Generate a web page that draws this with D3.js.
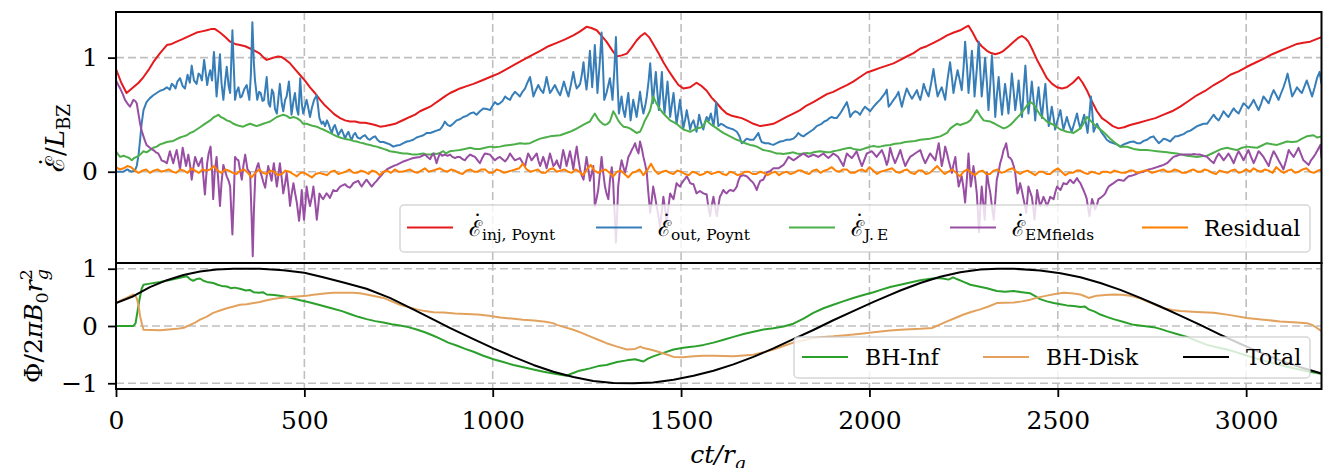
<!DOCTYPE html>
<html>
<head>
<meta charset="utf-8">
<script src="https://cdn.jsdelivr.net/npm/d3@7"></script>
<style>
  html, body { margin: 0; padding: 0; background: #ffffff; }
  svg { display: block; }
  text { font-family: "DejaVu Serif", "Liberation Serif", serif; fill: #000; }
</style>
</head>
<body>
<svg id="chart" width="1323" height="468"></svg>
<script>
// ---------------- data: energy budget (top panel) ----------------
// [ct/r_g, value / L_BZ]
const injPoynt = [[0,0.90],[14,0.78],[28,0.69],[46,0.74],[60,0.78],[73,0.83],[86,0.89],[99,0.96],[117,1.04],[135,1.11],[148,1.12],[161,1.14],[175,1.16],[188,1.18],[201,1.20],[214,1.22],[228,1.23],[241,1.24],[252,1.25],[263,1.25],[276,1.22],[290,1.18],[303,1.14],[316,1.12],[329,1.11],[343,1.10],[356,1.08],[369,1.06],[382,1.035],[392,1.00],[400,0.98],[409,0.99],[418,1.00],[430,1.01],[440,1.005],[451,0.98],[462,0.95],[475,0.90],[488,0.85],[501,0.80],[515,0.74],[528,0.69],[542,0.63],[555,0.58],[568,0.54],[581,0.50],[595,0.47],[608,0.45],[621,0.44],[635,0.44],[648,0.43],[661,0.43],[674,0.42],[688,0.41],[701,0.395],[714,0.40],[727,0.41],[741,0.42],[754,0.44],[767,0.46],[780,0.48],[794,0.50],[807,0.53],[820,0.55],[834,0.57],[847,0.60],[860,0.63],[873,0.66],[887,0.69],[900,0.71],[913,0.73],[931,0.75],[949,0.77],[971,0.80],[993,0.83],[1015,0.86],[1037,0.90],[1059,0.94],[1081,0.98],[1103,1.02],[1126,1.06],[1148,1.10],[1170,1.13],[1192,1.16],[1214,1.195],[1232,1.23],[1249,1.27],[1262,1.26],[1276,1.24],[1289,1.19],[1302,1.14],[1316,1.07],[1329,1.01],[1342,1.02],[1356,1.035],[1369,1.09],[1382,1.15],[1393,1.19],[1404,1.215],[1415,1.18],[1426,1.12],[1440,1.04],[1453,0.96],[1466,0.89],[1480,0.82],[1493,0.76],[1506,0.73],[1524,0.74],[1541,0.78],[1555,0.75],[1568,0.71],[1581,0.65],[1595,0.60],[1608,0.55],[1621,0.51],[1635,0.49],[1648,0.48],[1661,0.47],[1674,0.45],[1692,0.42],[1710,0.40],[1728,0.41],[1745,0.42],[1763,0.45],[1780,0.48],[1798,0.51],[1816,0.54],[1833,0.58],[1851,0.61],[1869,0.645],[1887,0.68],[1904,0.70],[1922,0.73],[1940,0.76],[1957,0.79],[1975,0.83],[1993,0.87],[2011,0.89],[2028,0.91],[2046,0.93],[2064,0.95],[2082,0.98],[2099,1.01],[2117,1.04],[2135,1.08],[2152,1.10],[2170,1.13],[2188,1.16],[2206,1.195],[2224,1.22],[2241,1.24],[2252,1.26],[2263,1.28],[2274,1.22],[2285,1.15],[2298,1.10],[2312,1.06],[2323,1.04],[2334,1.03],[2345,1.04],[2356,1.06],[2370,1.10],[2383,1.14],[2394,1.17],[2405,1.19],[2414,1.17],[2422,1.14],[2434,1.06],[2445,0.98],[2458,0.90],[2471,0.82],[2485,0.77],[2498,0.74],[2511,0.73],[2524,0.74],[2540,0.78],[2555,0.83],[2566,0.78],[2577,0.715],[2590,0.62],[2604,0.53],[2617,0.47],[2630,0.44],[2646,0.40],[2661,0.38],[2676,0.39],[2692,0.41],[2715,0.43],[2737,0.45],[2759,0.47],[2781,0.50],[2803,0.53],[2825,0.57],[2847,0.62],[2869,0.67],[2892,0.71],[2914,0.76],[2936,0.80],[2958,0.85],[2980,0.88],[3002,0.92],[3024,0.955],[3046,0.99],[3069,1.03],[3091,1.06],[3113,1.09],[3135,1.12],[3152,1.13],[3170,1.14],[3185,1.16],[3200,1.18]];

const outPoynt = [[0,0.0],[10,0.0],[20,0.0],[30,0.02],[40,0.0],[50,0.01],[55,0.05],[60,0.15],[64,0.28],[68,0.42],[73,0.54],[81,0.61],[90,0.645],[99,0.67],[108,0.69],[117,0.71],[126,0.72],[135,0.74],[143,0.72],[148,0.77],[152,0.76],[158,0.73],[163,0.79],[170,0.82],[177,0.75],[183,0.73],[190,0.85],[196,0.78],[201,0.93],[207,0.80],[214,0.77],[219,0.86],[223,0.85],[228,0.80],[234,0.98],[242,0.76],[246,0.84],[250,0.89],[255,0.80],[260,1.05],[267,0.66],[272,0.85],[276,1.03],[280,0.78],[285,0.63],[290,0.80],[294,0.92],[299,0.75],[303,0.69],[309,1.24],[316,0.63],[320,0.70],[325,0.74],[330,0.65],[334,0.66],[340,0.72],[347,0.76],[354,0.63],[358,0.85],[362,1.31],[366,0.95],[369,0.80],[375,0.63],[380,0.70],[384,0.69],[389,0.62],[393,0.63],[400,0.83],[405,0.60],[409,0.57],[414,0.72],[418,0.69],[422,0.55],[427,0.51],[431,0.64],[435,0.77],[440,0.60],[444,0.53],[449,0.63],[453,0.66],[459,0.79],[466,0.50],[471,0.62],[475,0.69],[480,0.55],[484,0.50],[489,0.82],[493,0.60],[497,0.51],[502,0.58],[506,0.63],[511,0.55],[515,0.48],[520,0.56],[526,0.63],[533,0.67],[540,0.47],[546,0.42],[550,0.44],[555,0.40],[560,0.45],[564,0.42],[568,0.38],[573,0.34],[577,0.39],[581,0.41],[586,0.36],[590,0.32],[595,0.35],[599,0.37],[604,0.33],[608,0.29],[613,0.33],[617,0.35],[621,0.31],[626,0.28],[630,0.32],[635,0.34],[641,0.30],[648,0.29],[655,0.31],[661,0.32],[668,0.29],[674,0.28],[681,0.30],[688,0.31],[694,0.28],[701,0.26],[710,0.26],[719,0.25],[727,0.24],[736,0.22],[745,0.23],[754,0.235],[763,0.25],[772,0.265],[780,0.27],[789,0.28],[798,0.30],[807,0.31],[816,0.32],[825,0.34],[834,0.34],[843,0.35],[851,0.36],[860,0.37],[867,0.40],[873,0.44],[880,0.41],[887,0.40],[895,0.42],[904,0.45],[913,0.46],[922,0.48],[931,0.49],[940,0.51],[949,0.52],[957,0.50],[966,0.53],[975,0.555],[984,0.55],[993,0.54],[1000,0.58],[1006,0.61],[1013,0.59],[1019,0.60],[1026,0.62],[1033,0.66],[1040,0.64],[1046,0.63],[1052,0.67],[1059,0.70],[1066,0.68],[1072,0.66],[1079,0.70],[1086,0.73],[1092,0.78],[1099,0.83],[1104,0.74],[1108,0.66],[1114,0.71],[1121,0.76],[1127,0.72],[1134,0.69],[1139,0.76],[1143,0.83],[1148,0.75],[1152,0.69],[1158,0.72],[1165,0.76],[1172,0.71],[1179,0.67],[1184,0.73],[1189,0.79],[1195,0.72],[1201,0.66],[1208,0.77],[1214,0.875],[1219,0.78],[1223,0.73],[1228,0.75],[1232,0.77],[1237,0.86],[1241,0.96],[1245,0.82],[1249,0.72],[1254,0.88],[1258,1.06],[1261,0.90],[1264,0.74],[1268,0.92],[1271,1.11],[1275,0.88],[1278,0.69],[1284,0.95],[1289,1.22],[1293,0.90],[1296,0.63],[1302,0.69],[1307,0.76],[1311,0.82],[1315,0.72],[1318,0.63],[1323,0.90],[1327,1.18],[1331,0.80],[1335,0.51],[1342,0.66],[1346,0.55],[1351,0.48],[1355,0.58],[1360,0.69],[1366,0.45],[1373,0.63],[1378,0.55],[1382,0.48],[1387,0.60],[1391,0.70],[1396,0.58],[1400,0.51],[1405,0.58],[1409,0.66],[1414,0.80],[1418,0.95],[1422,0.75],[1425,0.60],[1429,0.74],[1433,0.875],[1437,0.70],[1441,0.54],[1445,0.70],[1449,0.875],[1452,0.68],[1456,0.51],[1460,0.65],[1464,0.79],[1468,0.62],[1471,0.48],[1476,0.60],[1480,0.69],[1484,0.55],[1488,0.42],[1493,0.53],[1497,0.63],[1502,0.50],[1506,0.38],[1511,0.46],[1515,0.54],[1520,0.45],[1524,0.37],[1528,0.42],[1533,0.45],[1537,0.40],[1541,0.35],[1545,0.43],[1548,0.50],[1553,0.43],[1559,0.37],[1564,0.44],[1568,0.48],[1574,0.45],[1579,0.51],[1583,0.45],[1586,0.40],[1590,0.50],[1593,0.61],[1596,0.50],[1599,0.40],[1606,0.42],[1612,0.41],[1621,0.39],[1630,0.38],[1639,0.37],[1648,0.35],[1655,0.31],[1661,0.25],[1668,0.27],[1674,0.29],[1683,0.28],[1692,0.28],[1699,0.31],[1705,0.34],[1710,0.29],[1714,0.26],[1723,0.25],[1732,0.25],[1740,0.24],[1745,0.235],[1754,0.25],[1763,0.265],[1772,0.27],[1780,0.28],[1789,0.28],[1798,0.29],[1805,0.31],[1811,0.34],[1818,0.32],[1825,0.31],[1833,0.33],[1842,0.35],[1851,0.37],[1860,0.40],[1867,0.41],[1873,0.42],[1880,0.44],[1887,0.45],[1894,0.47],[1900,0.48],[1907,0.47],[1913,0.47],[1920,0.50],[1926,0.53],[1933,0.57],[1940,0.61],[1945,0.55],[1949,0.48],[1955,0.51],[1962,0.53],[1969,0.52],[1975,0.50],[1982,0.54],[1988,0.57],[1995,0.55],[2002,0.53],[2011,0.57],[2019,0.60],[2028,0.63],[2037,0.67],[2042,0.69],[2046,0.72],[2051,0.57],[2058,0.60],[2064,0.63],[2071,0.66],[2077,0.70],[2081,0.64],[2086,0.57],[2092,0.65],[2099,0.73],[2106,0.68],[2113,0.64],[2120,0.68],[2126,0.715],[2130,0.67],[2135,0.63],[2140,0.70],[2144,0.77],[2150,0.71],[2157,0.66],[2164,0.78],[2170,0.90],[2175,0.78],[2181,0.66],[2186,0.70],[2192,0.74],[2197,0.68],[2201,0.63],[2207,0.80],[2214,0.96],[2219,0.82],[2223,0.69],[2228,0.79],[2234,0.89],[2240,0.80],[2245,0.715],[2250,0.92],[2254,1.14],[2259,0.92],[2263,0.69],[2268,0.88],[2272,1.06],[2276,0.86],[2279,0.66],[2285,0.90],[2290,1.14],[2294,0.90],[2298,0.66],[2303,0.83],[2307,1.00],[2312,0.77],[2316,0.54],[2321,0.78],[2325,1.02],[2330,0.75],[2334,0.48],[2338,0.66],[2343,0.83],[2347,0.66],[2352,0.50],[2356,0.64],[2360,0.77],[2365,0.64],[2369,0.51],[2374,0.69],[2378,0.86],[2383,0.70],[2387,0.54],[2392,0.67],[2396,0.80],[2400,0.64],[2405,0.48],[2409,0.70],[2414,0.93],[2418,0.72],[2422,0.51],[2427,0.65],[2431,0.79],[2436,0.62],[2440,0.45],[2444,0.60],[2449,0.74],[2453,0.60],[2458,0.47],[2462,0.62],[2467,0.77],[2471,0.58],[2476,0.40],[2480,0.48],[2484,0.57],[2489,0.47],[2493,0.37],[2500,0.46],[2507,0.54],[2511,0.45],[2515,0.37],[2520,0.43],[2524,0.48],[2530,0.41],[2537,0.35],[2544,0.43],[2551,0.51],[2555,0.44],[2560,0.38],[2565,0.44],[2570,0.50],[2575,0.42],[2579,0.34],[2584,0.50],[2588,0.66],[2592,0.50],[2595,0.35],[2600,0.39],[2604,0.42],[2610,0.38],[2617,0.34],[2624,0.31],[2630,0.28],[2639,0.26],[2648,0.25],[2657,0.24],[2666,0.22],[2675,0.24],[2683,0.25],[2692,0.26],[2701,0.265],[2710,0.25],[2719,0.25],[2728,0.27],[2737,0.28],[2745,0.30],[2754,0.31],[2761,0.28],[2768,0.25],[2775,0.27],[2781,0.29],[2790,0.28],[2799,0.265],[2805,0.29],[2812,0.31],[2818,0.31],[2825,0.32],[2834,0.33],[2843,0.35],[2852,0.36],[2861,0.38],[2870,0.40],[2878,0.41],[2887,0.42],[2896,0.42],[2905,0.46],[2914,0.50],[2920,0.47],[2927,0.45],[2934,0.49],[2940,0.53],[2947,0.50],[2953,0.48],[2960,0.52],[2967,0.555],[2973,0.53],[2980,0.51],[2987,0.56],[2993,0.60],[3000,0.58],[3006,0.555],[3013,0.59],[3020,0.63],[3027,0.58],[3033,0.54],[3040,0.60],[3046,0.66],[3053,0.63],[3060,0.60],[3066,0.66],[3073,0.715],[3080,0.67],[3086,0.63],[3093,0.69],[3099,0.74],[3105,0.80],[3110,0.86],[3116,0.76],[3122,0.66],[3129,0.70],[3135,0.74],[3142,0.71],[3148,0.69],[3155,0.75],[3161,0.80],[3168,0.73],[3175,0.66],[3182,0.74],[3188,0.82],[3195,0.875],[3200,0.77]];

const jDotE = [[0,0.18],[6,0.15],[11,0.13],[20,0.14],[28,0.13],[35,0.12],[42,0.10],[48,0.12],[55,0.13],[64,0.15],[73,0.18],[81,0.17],[90,0.19],[99,0.21],[108,0.22],[117,0.24],[126,0.25],[135,0.26],[143,0.265],[152,0.27],[161,0.285],[170,0.30],[179,0.31],[188,0.32],[197,0.34],[205,0.35],[214,0.37],[223,0.39],[232,0.41],[241,0.43],[250,0.45],[260,0.48],[267,0.49],[272,0.50],[278,0.48],[285,0.47],[294,0.45],[303,0.44],[312,0.42],[320,0.41],[329,0.40],[338,0.395],[347,0.41],[356,0.42],[365,0.41],[373,0.40],[382,0.41],[391,0.42],[400,0.43],[409,0.44],[418,0.46],[427,0.48],[435,0.49],[444,0.50],[453,0.49],[462,0.47],[471,0.48],[480,0.47],[489,0.45],[497,0.42],[506,0.42],[515,0.41],[524,0.40],[533,0.395],[542,0.38],[550,0.37],[559,0.355],[568,0.34],[577,0.325],[586,0.31],[595,0.30],[604,0.29],[612,0.285],[621,0.28],[630,0.27],[639,0.265],[648,0.255],[657,0.25],[665,0.24],[674,0.235],[683,0.225],[692,0.22],[701,0.21],[710,0.20],[719,0.19],[727,0.18],[736,0.175],[745,0.17],[754,0.165],[763,0.16],[772,0.16],[780,0.155],[789,0.15],[798,0.15],[807,0.155],[816,0.16],[825,0.15],[834,0.15],[843,0.16],[851,0.155],[860,0.165],[869,0.18],[876,0.16],[887,0.18],[900,0.185],[913,0.19],[926,0.20],[940,0.21],[953,0.20],[966,0.20],[980,0.21],[993,0.22],[1006,0.215],[1019,0.22],[1033,0.23],[1046,0.235],[1059,0.24],[1072,0.25],[1086,0.245],[1099,0.25],[1112,0.27],[1126,0.29],[1139,0.30],[1152,0.31],[1165,0.315],[1179,0.32],[1192,0.335],[1205,0.35],[1218,0.37],[1232,0.395],[1245,0.42],[1258,0.44],[1265,0.48],[1271,0.51],[1278,0.47],[1285,0.44],[1292,0.42],[1298,0.41],[1305,0.42],[1311,0.44],[1316,0.49],[1320,0.53],[1327,0.49],[1333,0.45],[1340,0.42],[1347,0.395],[1356,0.39],[1364,0.38],[1373,0.36],[1382,0.34],[1391,0.35],[1398,0.40],[1404,0.45],[1411,0.49],[1418,0.54],[1422,0.60],[1426,0.66],[1433,0.61],[1440,0.57],[1446,0.54],[1453,0.51],[1462,0.48],[1471,0.45],[1480,0.435],[1488,0.42],[1497,0.395],[1506,0.37],[1515,0.36],[1524,0.35],[1533,0.365],[1541,0.38],[1550,0.385],[1559,0.395],[1563,0.43],[1568,0.45],[1574,0.43],[1581,0.41],[1588,0.395],[1595,0.38],[1603,0.36],[1612,0.34],[1621,0.325],[1630,0.31],[1639,0.295],[1648,0.28],[1656,0.27],[1665,0.255],[1674,0.245],[1683,0.235],[1692,0.23],[1701,0.22],[1710,0.205],[1718,0.19],[1727,0.185],[1736,0.18],[1745,0.17],[1754,0.16],[1763,0.16],[1771,0.155],[1780,0.16],[1789,0.165],[1798,0.17],[1807,0.16],[1816,0.155],[1825,0.16],[1834,0.165],[1842,0.16],[1851,0.17],[1860,0.175],[1869,0.18],[1878,0.175],[1887,0.17],[1895,0.17],[1904,0.18],[1913,0.185],[1922,0.19],[1931,0.20],[1940,0.205],[1949,0.21],[1957,0.20],[1966,0.195],[1975,0.19],[1984,0.20],[1993,0.21],[2002,0.22],[2011,0.225],[2019,0.22],[2028,0.22],[2042,0.23],[2055,0.235],[2068,0.245],[2082,0.25],[2095,0.26],[2108,0.265],[2121,0.27],[2135,0.28],[2148,0.285],[2161,0.29],[2175,0.30],[2188,0.31],[2197,0.325],[2206,0.34],[2215,0.38],[2223,0.40],[2232,0.42],[2241,0.41],[2250,0.42],[2259,0.43],[2268,0.45],[2276,0.49],[2285,0.54],[2294,0.49],[2303,0.45],[2312,0.445],[2321,0.44],[2330,0.425],[2338,0.41],[2347,0.395],[2356,0.38],[2365,0.39],[2374,0.41],[2383,0.44],[2391,0.47],[2400,0.50],[2409,0.54],[2418,0.58],[2427,0.61],[2433,0.60],[2440,0.57],[2447,0.53],[2453,0.50],[2462,0.47],[2471,0.44],[2480,0.425],[2489,0.41],[2498,0.39],[2507,0.37],[2515,0.36],[2524,0.35],[2533,0.345],[2542,0.34],[2551,0.36],[2560,0.38],[2568,0.42],[2577,0.48],[2586,0.45],[2595,0.42],[2604,0.395],[2613,0.37],[2622,0.345],[2630,0.32],[2639,0.29],[2648,0.265],[2657,0.24],[2666,0.22],[2675,0.22],[2683,0.22],[2692,0.21],[2701,0.20],[2710,0.195],[2719,0.19],[2728,0.19],[2737,0.19],[2750,0.185],[2763,0.18],[2776,0.175],[2790,0.17],[2803,0.165],[2816,0.16],[2829,0.15],[2843,0.14],[2856,0.135],[2869,0.13],[2882,0.135],[2896,0.14],[2909,0.16],[2922,0.18],[2935,0.20],[2949,0.21],[2962,0.20],[2975,0.19],[2989,0.21],[3002,0.22],[3015,0.215],[3029,0.21],[3042,0.23],[3055,0.25],[3069,0.24],[3082,0.235],[3095,0.25],[3108,0.265],[3122,0.26],[3135,0.265],[3148,0.29],[3161,0.31],[3170,0.315],[3179,0.32],[3188,0.30],[3200,0.31]];

const emFields = [[0,0.80],[6,0.76],[11,0.73],[18,0.68],[24,0.63],[30,0.60],[37,0.57],[42,0.60],[46,0.63],[51,0.62],[55,0.60],[60,0.50],[64,0.42],[68,0.36],[73,0.31],[77,0.27],[81,0.235],[90,0.21],[99,0.19],[106,0.17],[112,0.16],[117,0.13],[121,0.10],[128,0.09],[135,0.075],[143,0.18],[148,0.12],[152,0.075],[156,0.13],[161,0.19],[166,0.10],[170,0.02],[177,0.21],[182,0.12],[186,0.05],[192,0.15],[197,0.05],[201,-0.07],[206,0.05],[210,0.13],[215,0.08],[219,0.05],[224,0.09],[228,0.12],[232,-0.05],[236,-0.20],[242,0.075],[246,0.16],[251,0.22],[255,0.00],[258,-0.24],[262,0.00],[267,0.13],[272,-0.10],[276,-0.30],[280,-0.10],[285,0.06],[290,0.00],[294,-0.04],[299,-0.08],[303,-0.13],[306,-0.35],[309,-0.55],[313,-0.20],[316,0.13],[320,0.11],[325,0.10],[330,0.00],[334,-0.07],[338,0.05],[343,0.15],[349,0.02],[356,-0.01],[360,-0.40],[363,-0.74],[366,-0.35],[370,-0.01],[374,0.04],[378,0.075],[382,0.01],[387,-0.04],[391,-0.09],[396,-0.14],[400,-0.04],[404,0.05],[409,-0.02],[413,-0.08],[416,0.00],[419,0.075],[423,-0.03],[427,-0.13],[431,-0.03],[435,0.075],[440,-0.06],[444,-0.19],[449,-0.10],[453,-0.01],[458,-0.15],[462,-0.30],[466,-0.20],[471,-0.10],[475,-0.18],[480,-0.27],[483,-0.35],[486,-0.43],[490,-0.30],[493,-0.16],[496,-0.30],[499,-0.42],[503,-0.28],[506,-0.13],[510,-0.22],[515,-0.30],[520,-0.22],[524,-0.13],[529,-0.28],[533,-0.42],[537,-0.30],[540,-0.19],[545,-0.22],[550,-0.24],[555,-0.21],[559,-0.19],[564,-0.21],[568,-0.23],[573,-0.19],[577,-0.16],[581,-0.17],[586,-0.17],[590,-0.15],[595,-0.13],[601,-0.12],[608,-0.11],[614,-0.13],[621,-0.14],[626,-0.12],[630,-0.10],[636,-0.09],[643,-0.08],[648,-0.11],[652,-0.13],[658,-0.10],[665,-0.07],[672,-0.10],[679,-0.13],[686,-0.10],[692,-0.08],[699,-0.05],[705,-0.03],[712,0.00],[719,0.02],[727,0.035],[736,0.05],[745,0.06],[754,0.075],[763,0.09],[772,0.10],[780,0.11],[789,0.12],[798,0.125],[807,0.13],[813,0.14],[820,0.15],[827,0.13],[834,0.11],[838,0.14],[843,0.16],[847,0.12],[851,0.075],[855,0.12],[860,0.16],[866,0.14],[873,0.15],[880,0.14],[887,0.15],[893,0.13],[900,0.12],[906,0.13],[913,0.13],[920,0.11],[926,0.10],[933,0.13],[940,0.15],[946,0.14],[953,0.13],[960,0.10],[966,0.075],[972,0.12],[979,0.16],[986,0.155],[993,0.15],[1000,0.12],[1006,0.10],[1013,0.12],[1019,0.13],[1026,0.11],[1033,0.09],[1040,0.12],[1046,0.16],[1052,0.13],[1059,0.10],[1066,0.11],[1072,0.12],[1079,0.08],[1086,0.05],[1090,0.11],[1094,0.16],[1099,0.13],[1103,0.10],[1110,0.13],[1117,0.16],[1121,0.10],[1126,0.05],[1130,0.09],[1134,0.13],[1139,0.08],[1143,0.03],[1148,0.10],[1152,0.16],[1157,0.10],[1161,0.05],[1166,0.07],[1170,0.10],[1174,0.06],[1179,0.03],[1183,0.11],[1187,0.19],[1192,0.12],[1196,0.05],[1201,0.12],[1205,0.18],[1210,0.10],[1214,0.02],[1218,0.12],[1223,0.22],[1227,0.12],[1232,0.02],[1236,-0.03],[1241,-0.07],[1245,0.03],[1249,0.13],[1254,0.02],[1258,-0.08],[1263,-0.01],[1267,0.05],[1269,-0.12],[1271,-0.30],[1276,-0.23],[1280,-0.16],[1285,0.00],[1289,0.13],[1293,0.00],[1298,-0.13],[1302,-0.19],[1307,-0.24],[1311,-0.08],[1316,0.04],[1320,-0.10],[1322,-0.27],[1325,-0.45],[1327,-0.62],[1330,-0.40],[1333,-0.13],[1338,0.02],[1342,0.10],[1347,0.04],[1351,-0.01],[1356,0.06],[1360,0.13],[1365,0.16],[1369,0.19],[1374,0.22],[1378,0.25],[1382,0.20],[1387,0.16],[1391,0.265],[1396,0.20],[1400,0.13],[1405,0.06],[1409,-0.01],[1413,-0.18],[1418,-0.36],[1422,-0.25],[1426,-0.13],[1431,-0.22],[1435,-0.30],[1440,-0.39],[1444,-0.48],[1449,-0.35],[1453,-0.22],[1458,-0.33],[1462,-0.45],[1466,-0.32],[1471,-0.19],[1476,-0.22],[1480,-0.24],[1484,-0.17],[1488,-0.10],[1493,-0.12],[1497,-0.13],[1502,-0.10],[1506,-0.08],[1511,-0.06],[1515,-0.04],[1520,-0.07],[1524,-0.10],[1528,-0.105],[1533,-0.11],[1537,-0.15],[1541,-0.19],[1545,-0.18],[1550,-0.17],[1555,-0.18],[1559,-0.19],[1564,-0.195],[1568,-0.20],[1572,-0.30],[1577,-0.39],[1581,-0.30],[1586,-0.22],[1590,-0.30],[1595,-0.39],[1599,-0.30],[1603,-0.22],[1608,-0.19],[1612,-0.16],[1617,-0.18],[1621,-0.19],[1626,-0.17],[1630,-0.16],[1635,-0.165],[1639,-0.17],[1644,-0.15],[1648,-0.13],[1652,-0.08],[1657,-0.04],[1661,-0.035],[1665,-0.03],[1670,-0.035],[1674,-0.04],[1679,-0.055],[1683,-0.07],[1688,-0.085],[1692,-0.10],[1697,-0.13],[1701,-0.16],[1705,-0.12],[1710,-0.08],[1714,-0.075],[1718,-0.07],[1723,-0.04],[1727,-0.01],[1732,0.00],[1736,0.005],[1745,0.03],[1752,0.03],[1758,0.03],[1765,0.045],[1772,0.06],[1778,0.09],[1785,0.13],[1792,0.115],[1798,0.10],[1805,0.115],[1811,0.13],[1818,0.145],[1825,0.16],[1831,0.145],[1838,0.13],[1845,0.14],[1851,0.15],[1858,0.14],[1864,0.13],[1871,0.145],[1878,0.16],[1884,0.14],[1891,0.12],[1898,0.14],[1904,0.16],[1911,0.145],[1917,0.13],[1924,0.09],[1931,0.05],[1935,0.10],[1940,0.16],[1946,0.14],[1953,0.12],[1960,0.15],[1966,0.18],[1973,0.11],[1980,0.05],[1986,0.10],[1993,0.16],[2000,0.17],[2006,0.18],[2013,0.155],[2019,0.13],[2026,0.16],[2033,0.19],[2040,0.13],[2046,0.06],[2050,0.10],[2055,0.21],[2061,0.14],[2068,0.075],[2075,0.13],[2082,0.19],[2088,0.12],[2095,0.05],[2101,0.09],[2108,0.13],[2115,0.145],[2121,0.16],[2128,0.175],[2135,0.19],[2141,0.13],[2148,0.075],[2155,0.12],[2161,0.16],[2168,0.13],[2175,0.10],[2179,0.17],[2184,0.25],[2188,0.15],[2192,0.05],[2197,0.13],[2201,0.22],[2206,0.16],[2210,0.10],[2215,0.04],[2219,-0.01],[2223,0.06],[2228,0.13],[2232,0.00],[2237,-0.13],[2241,-0.08],[2245,-0.04],[2250,-0.15],[2254,-0.27],[2259,-0.05],[2263,0.16],[2266,0.01],[2269,-0.13],[2273,-0.04],[2276,0.05],[2281,-0.07],[2285,-0.19],[2288,-0.36],[2291,-0.53],[2294,-0.33],[2298,-0.13],[2302,-0.27],[2306,-0.42],[2309,-0.20],[2312,-0.01],[2316,-0.10],[2321,-0.19],[2325,-0.30],[2330,-0.42],[2334,-0.25],[2338,-0.07],[2343,0.00],[2347,0.075],[2352,0.13],[2356,0.19],[2360,0.22],[2363,0.25],[2366,0.19],[2369,0.13],[2374,0.12],[2378,0.10],[2383,0.05],[2387,-0.01],[2390,-0.10],[2393,-0.19],[2397,-0.15],[2400,-0.10],[2405,-0.17],[2409,-0.24],[2413,-0.30],[2416,-0.36],[2419,-0.25],[2422,-0.13],[2427,-0.18],[2431,-0.22],[2435,-0.32],[2438,-0.42],[2442,-0.29],[2445,-0.16],[2449,-0.23],[2453,-0.30],[2458,-0.26],[2462,-0.22],[2467,-0.26],[2471,-0.30],[2476,-0.26],[2480,-0.22],[2484,-0.23],[2489,-0.24],[2493,-0.185],[2498,-0.13],[2502,-0.145],[2507,-0.16],[2511,-0.13],[2515,-0.10],[2520,-0.105],[2524,-0.11],[2528,-0.09],[2533,-0.07],[2537,-0.085],[2542,-0.10],[2546,-0.08],[2551,-0.055],[2555,-0.08],[2560,-0.10],[2564,-0.13],[2568,-0.16],[2573,-0.20],[2577,-0.24],[2580,-0.31],[2584,-0.39],[2587,-0.32],[2591,-0.24],[2595,-0.28],[2599,-0.33],[2604,-0.29],[2608,-0.24],[2613,-0.23],[2617,-0.22],[2622,-0.205],[2626,-0.19],[2630,-0.16],[2635,-0.13],[2641,-0.115],[2648,-0.10],[2654,-0.085],[2661,-0.07],[2668,-0.075],[2675,-0.08],[2681,-0.06],[2688,-0.04],[2695,-0.035],[2701,-0.03],[2708,-0.02],[2715,-0.01],[2721,-0.005],[2728,0.00],[2734,0.01],[2741,0.02],[2748,0.025],[2754,0.03],[2763,0.04],[2772,0.05],[2781,0.06],[2790,0.075],[2798,0.10],[2807,0.13],[2816,0.14],[2825,0.15],[2834,0.15],[2843,0.15],[2852,0.15],[2861,0.155],[2870,0.15],[2878,0.15],[2887,0.14],[2896,0.13],[2905,0.10],[2914,0.075],[2920,0.12],[2927,0.16],[2934,0.13],[2940,0.10],[2947,0.13],[2953,0.16],[2960,0.12],[2967,0.075],[2973,0.13],[2980,0.18],[2987,0.14],[2993,0.10],[3000,0.15],[3006,0.19],[3013,0.13],[3020,0.075],[3027,0.13],[3033,0.18],[3040,0.155],[3046,0.13],[3053,0.09],[3060,0.05],[3066,0.12],[3073,0.18],[3080,0.14],[3086,0.10],[3093,0.06],[3099,0.02],[3106,0.10],[3113,0.19],[3119,0.16],[3126,0.13],[3133,0.17],[3139,0.21],[3146,0.15],[3152,0.10],[3159,0.08],[3166,0.06],[3172,0.10],[3179,0.13],[3184,0.155],[3188,0.18],[3193,0.21],[3197,0.235],[3200,0.12]];

// residual sampled every 10 time units, starting at ct/r_g = 0
const residualStep = 10;
const residual = [0.04,0.02,0.03,0.05,0.04,0.01,-0.01,0.01,0.02,-0.01,0.01,0.02,0.00,0.01,0.02,0.00,-0.01,0.02,0.01,-0.01,0.03,0.01,-0.01,0.02,0.01,0.02,0.05,0.01,-0.01,0.02,0.01,-0.01,-0.02,0.01,0.02,-0.01,-0.05,-0.01,0.02,-0.01,-0.02,0.01,0.00,-0.03,-0.02,0.01,0.00,-0.02,-0.04,-0.01,-0.01,-0.03,-0.05,-0.02,-0.01,-0.02,-0.03,0.00,0.01,-0.02,-0.01,0.00,0.02,-0.01,-0.01,0.01,0.00,-0.02,0.01,0.00,-0.03,0.00,0.01,-0.01,0.02,0.00,0.00,0.01,0.02,0.00,-0.01,0.01,0.03,0.00,0.01,0.02,0.03,0.01,0.00,0.02,0.01,-0.01,-0.02,0.01,0.02,0.00,0.00,0.02,0.02,-0.01,-0.01,0.02,0.01,-0.01,0.00,0.01,0.02,0.03,0.07,0.02,0.00,0.01,0.02,-0.01,-0.01,0.02,0.03,0.00,0.01,0.02,0.00,-0.01,0.02,0.00,-0.03,0.02,0.06,0.01,-0.01,0.01,0.02,-0.01,-0.04,0.00,0.01,-0.02,-0.05,-0.01,0.00,0.02,-0.03,0.01,0.07,0.01,-0.02,0.00,0.01,-0.01,-0.02,0.01,0.00,-0.02,-0.03,0.00,-0.01,-0.03,-0.02,0.00,-0.02,-0.01,0.00,-0.02,-0.03,0.00,-0.01,-0.03,-0.02,0.00,0.00,-0.02,-0.02,0.00,-0.01,-0.03,-0.01,0.00,-0.03,-0.01,0.00,-0.02,-0.01,0.01,0.01,-0.01,-0.02,0.01,0.02,-0.01,0.01,0.02,0.04,0.01,0.00,0.02,0.02,-0.01,-0.01,0.01,0.02,0.00,0.04,0.01,-0.02,0.00,0.01,0.02,0.03,0.00,-0.01,0.01,0.02,-0.01,-0.02,0.01,0.01,-0.02,-0.01,0.02,0.05,0.01,-0.02,0.00,0.02,-0.01,-0.04,0.00,0.02,-0.01,-0.03,0.00,0.01,-0.02,-0.02,0.01,0.02,-0.01,0.00,0.02,0.03,0.00,-0.02,0.00,0.01,-0.01,-0.03,0.00,0.00,-0.02,-0.02,0.01,0.03,0.00,-0.03,-0.01,-0.01,0.01,0.01,-0.01,-0.02,0.00,-0.01,-0.02,0.00,0.00,-0.01,0.01,0.00,-0.01,-0.01,0.01,0.01,-0.01,0.00,0.01,0.01,-0.01,0.00,0.01,0.02,0.00,0.00,0.02,0.01,-0.01,-0.01,0.01,0.02,0.00,0.00,0.02,0.01,-0.01,-0.02,0.01,0.00,-0.01,0.01,0.02,-0.01,0.00,0.02,0.00,0.03,0.01,0.00,0.02,0.01,-0.01,0.04,0.01,-0.01,0.01,0.02,-0.01,0.00,0.02,0.03,0.00,-0.01,0.01,0.02];

// ---------------- data: magnetic flux (bottom panel) ----------------
const bhInf = [[0,0.0],[30,0.0],[46,0.0],[52,0.05],[55,0.17],[62,0.45],[68,0.65],[73,0.72],[90,0.74],[117,0.77],[140,0.80],[161,0.83],[175,0.85],[188,0.87],[196,0.82],[205,0.79],[214,0.82],[223,0.83],[232,0.79],[241,0.77],[258,0.75],[270,0.72],[280,0.70],[294,0.69],[305,0.66],[315,0.67],[329,0.65],[345,0.62],[355,0.63],[365,0.59],[380,0.58],[390,0.59],[400,0.55],[420,0.54],[444,0.52],[465,0.49],[489,0.45],[510,0.42],[533,0.38],[555,0.34],[577,0.30],[600,0.26],[621,0.21],[643,0.16],[665,0.12],[688,0.085],[710,0.06],[732,0.03],[754,0.01],[776,-0.02],[798,-0.06],[820,-0.11],[843,-0.17],[860,-0.22],[882,-0.29],[904,-0.34],[927,-0.40],[949,-0.45],[975,-0.52],[1002,-0.58],[1028,-0.63],[1055,-0.68],[1082,-0.72],[1108,-0.76],[1135,-0.80],[1161,-0.83],[1180,-0.85],[1196,-0.87],[1205,-0.84],[1214,-0.82],[1230,-0.78],[1245,-0.76],[1258,-0.74],[1280,-0.70],[1302,-0.68],[1330,-0.63],[1356,-0.60],[1378,-0.58],[1400,-0.62],[1412,-0.57],[1426,-0.53],[1453,-0.47],[1480,-0.41],[1506,-0.38],[1533,-0.36],[1560,-0.33],[1586,-0.29],[1613,-0.24],[1639,-0.19],[1666,-0.14],[1692,-0.10],[1719,-0.06],[1745,-0.04],[1772,-0.01],[1798,0.04],[1825,0.13],[1851,0.23],[1878,0.31],[1904,0.37],[1930,0.43],[1957,0.49],[1984,0.54],[2011,0.59],[2030,0.63],[2055,0.68],[2082,0.72],[2108,0.76],[2135,0.80],[2157,0.82],[2179,0.84],[2195,0.83],[2210,0.81],[2222,0.85],[2232,0.82],[2250,0.77],[2268,0.72],[2290,0.69],[2312,0.66],[2338,0.61],[2360,0.60],[2383,0.61],[2405,0.59],[2427,0.57],[2440,0.52],[2453,0.47],[2471,0.43],[2489,0.40],[2507,0.38],[2524,0.36],[2542,0.35],[2560,0.33],[2572,0.34],[2582,0.29],[2598,0.25],[2613,0.20],[2630,0.16],[2648,0.12],[2675,0.07],[2701,0.02],[2728,0.00],[2754,-0.02],[2772,-0.05],[2790,-0.09],[2816,-0.14],[2843,-0.19],[2869,-0.26],[2896,-0.33],[2922,-0.37],[2949,-0.41],[2975,-0.46],[3002,-0.52],[3028,-0.57],[3055,-0.62],[3082,-0.67],[3108,-0.71],[3135,-0.75],[3161,-0.79],[3180,-0.81],[3200,-0.84]];

const bhDisk = [[0,0.40],[14,0.45],[28,0.49],[40,0.53],[46,0.55],[52,0.52],[55,0.49],[60,0.35],[64,0.17],[69,0.03],[73,-0.065],[95,-0.07],[117,-0.075],[140,-0.06],[161,-0.05],[180,-0.03],[197,0.02],[210,0.06],[223,0.11],[240,0.16],[258,0.23],[276,0.27],[294,0.31],[312,0.34],[329,0.37],[347,0.38],[365,0.40],[382,0.42],[400,0.45],[418,0.47],[435,0.49],[453,0.50],[471,0.51],[489,0.52],[506,0.53],[524,0.545],[542,0.56],[560,0.57],[577,0.58],[600,0.58],[630,0.58],[648,0.57],[665,0.55],[688,0.52],[710,0.49],[732,0.43],[754,0.37],[776,0.33],[798,0.29],[820,0.26],[843,0.24],[870,0.235],[900,0.22],[930,0.21],[960,0.20],[990,0.18],[1020,0.15],[1050,0.13],[1080,0.11],[1110,0.095],[1140,0.075],[1160,0.05],[1170,0.02],[1190,-0.02],[1214,-0.065],[1236,-0.12],[1258,-0.18],[1280,-0.24],[1302,-0.30],[1330,-0.36],[1356,-0.41],[1378,-0.40],[1392,-0.36],[1400,-0.385],[1418,-0.41],[1435,-0.44],[1458,-0.49],[1480,-0.54],[1506,-0.545],[1533,-0.53],[1560,-0.52],[1586,-0.52],[1613,-0.525],[1639,-0.53],[1666,-0.515],[1692,-0.50],[1719,-0.46],[1745,-0.41],[1772,-0.35],[1798,-0.29],[1825,-0.25],[1851,-0.21],[1878,-0.19],[1904,-0.18],[1930,-0.165],[1957,-0.15],[1984,-0.13],[2011,-0.11],[2030,-0.095],[2055,-0.08],[2082,-0.065],[2108,-0.055],[2135,-0.05],[2166,-0.035],[2185,0.02],[2206,0.08],[2228,0.14],[2250,0.20],[2272,0.25],[2294,0.29],[2316,0.34],[2338,0.40],[2360,0.405],[2383,0.41],[2405,0.43],[2427,0.46],[2449,0.50],[2471,0.53],[2493,0.56],[2515,0.58],[2537,0.57],[2560,0.55],[2572,0.52],[2582,0.49],[2593,0.51],[2604,0.53],[2626,0.54],[2648,0.55],[2670,0.545],[2692,0.53],[2715,0.49],[2737,0.43],[2759,0.37],[2781,0.31],[2803,0.28],[2825,0.26],[2869,0.245],[2914,0.23],[2958,0.19],[3002,0.14],[3046,0.11],[3090,0.08],[3135,0.06],[3161,0.05],[3175,0.02],[3188,-0.035],[3200,-0.09]];

const fluxTotal = [[0,0.40],[46,0.52],[90,0.68],[135,0.80],[179,0.89],[223,0.95],[267,0.985],[312,1.0],[382,1.0],[444,0.975],[500,0.93],[550,0.85],[604,0.76],[665,0.65],[727,0.49],[789,0.29],[843,0.11],[882,-0.02],[904,-0.09],[949,-0.23],[1002,-0.39],[1055,-0.54],[1108,-0.68],[1161,-0.80],[1214,-0.89],[1267,-0.96],[1320,-0.995],[1373,-1.0],[1426,-0.985],[1480,-0.94],[1533,-0.87],[1586,-0.78],[1639,-0.67],[1692,-0.54],[1745,-0.39],[1798,-0.23],[1851,-0.07],[1904,0.10],[1957,0.26],[2011,0.42],[2050,0.53],[2082,0.62],[2135,0.75],[2188,0.86],[2241,0.94],[2294,0.985],[2340,1.0],[2383,1.0],[2453,0.97],[2507,0.92],[2560,0.85],[2613,0.75],[2666,0.63],[2719,0.49],[2772,0.34],[2825,0.18],[2878,0.02],[2931,-0.15],[2984,-0.31],[3037,-0.46],[3090,-0.60],[3144,-0.72],[3200,-0.83]];

// ---------------- ticks ----------------
const xTicks = [0, 500, 1000, 1500, 2000, 2500, 3000];
const yTicksTop = [0, 1];
const yTicksBottom = [-1, 0, 1];

// ---------------- layout ----------------
const svg = d3.select("#chart");
const X0 = 116, X1 = 1321.5;
const TOP = { y0: 12, y1: 263 };
const BOT = { y0: 263, y1: 389 };

const x = d3.scaleLinear().domain([0, 3200]).range([X0, X1]);
const yTop = d3.scaleLinear().domain([-0.8, 1.4]).range([TOP.y1, TOP.y0]);
const yBot = d3.scaleLinear().domain([-1.1, 1.1]).range([BOT.y1, BOT.y0]);

svg.append("rect").attr("width", 1323).attr("height", 468).attr("fill", "#ffffff");

const defs = svg.append("defs");
defs.append("clipPath").attr("id", "clipTop").append("rect")
  .attr("x", X0).attr("y", TOP.y0).attr("width", X1 - X0).attr("height", TOP.y1 - TOP.y0);
defs.append("clipPath").attr("id", "clipBot").append("rect")
  .attr("x", X0).attr("y", BOT.y0).attr("width", X1 - X0).attr("height", BOT.y1 - BOT.y0);

const GRID = { stroke: "#bfbfbf", width: 1.6, dash: "8,4" };

function drawGrid(g, yScale, yTicks, p) {
  g.append("g").selectAll("line").data(xTicks).join("line")
    .attr("x1", d => x(d)).attr("x2", d => x(d))
    .attr("y1", p.y0).attr("y2", p.y1)
    .attr("stroke", GRID.stroke).attr("stroke-width", GRID.width)
    .attr("stroke-dasharray", GRID.dash);
  g.append("g").selectAll("line").data(yTicks).join("line")
    .attr("x1", X0).attr("x2", X1)
    .attr("y1", d => yScale(d)).attr("y2", d => yScale(d))
    .attr("stroke", GRID.stroke).attr("stroke-width", GRID.width)
    .attr("stroke-dasharray", GRID.dash);
}

function drawSeries(g, data, yScale, color, clip) {
  const line = d3.line().x(d => x(d[0])).y(d => yScale(d[1]));
  g.append("path").datum(data)
    .attr("clip-path", `url(#${clip})`)
    .attr("d", line)
    .attr("fill", "none")
    .attr("stroke", color)
    .attr("stroke-width", 2)
    .attr("stroke-linejoin", "round");
}

function drawFrame(g, p) {
  g.append("rect").attr("x", X0).attr("y", p.y0)
    .attr("width", X1 - X0).attr("height", p.y1 - p.y0)
    .attr("fill", "none").attr("stroke", "#000").attr("stroke-width", 2);
}

function styleAxis(a) {
  a.select(".domain").remove();
  a.selectAll(".tick line").attr("stroke", "#000").attr("stroke-width", 1.8);
  a.selectAll(".tick text").attr("font-family", "DejaVu Serif, serif").attr("font-size", 25).attr("fill", "#000");
}

const fmtTick = d => (d < 0 ? "\u2212" + Math.abs(d) : String(d));

// rich text helper: segments with optional italic / sub / sup / dot accent
function rich(textSel, parts, size) {
  let shift = 0;
  let carryDx = 0;
  parts.forEach(p => {
    const ts = textSel.append("tspan").text(p.t);
    const small = p.sub || p.sup;
    ts.attr("font-size", small ? size * 0.7 : size);
    if (p.italic) ts.attr("font-style", "italic");
    const target = p.sub ? size * (p.subShift || 0.22) : p.sup ? -size * 0.42 : 0;
    const dy = target - shift;
    if (dy) ts.attr("dy", dy);
    const dx = (p.dx || 0) + carryDx;
    if (dx) ts.attr("dx", dx);
    carryDx = 0;
    shift = target;
    if (p.dot) {
      // dot accent centred over the glyph just written
      const w = ts.node().getComputedTextLength();
      const d = textSel.append("tspan").text("\u02D9").attr("font-size", size);
      const dw = d.node().getComputedTextLength();
      const lift = -size * 0.2;
      d.attr("dx", -(w / 2 + dw / 2) + (p.dotShift || 0)).attr("dy", lift);
      shift += lift;
      carryDx = w / 2 - dw / 2 - (p.dotShift || 0);
    }
  });
}

// ---------------- top panel ----------------
const gTop = svg.append("g");
drawGrid(gTop, yTop, yTicksTop, TOP);
const topColors = { inj: "#e41a1c", out: "#377eb8", je: "#4daf4a", em: "#984ea3", res: "#ff7f00" };
drawSeries(gTop, injPoynt, yTop, topColors.inj, "clipTop");
drawSeries(gTop, outPoynt, yTop, topColors.out, "clipTop");
drawSeries(gTop, jDotE, yTop, topColors.je, "clipTop");
drawSeries(gTop, emFields, yTop, topColors.em, "clipTop");
drawSeries(gTop, residual.map((v, i) => [i * residualStep, v]), yTop, topColors.res, "clipTop");
drawFrame(gTop, TOP);
const axTopY = gTop.append("g").attr("transform", `translate(${X0},0)`)
  .call(d3.axisLeft(yTop).tickValues(yTicksTop).tickSize(8).tickPadding(10).tickFormat(fmtTick));
styleAxis(axTopY);

// top y label
const ylTop = svg.append("text")
  .attr("transform", "translate(64,138) rotate(-90)")
  .attr("text-anchor", "middle");
rich(ylTop, [{ t: "\u2130", dot: true, dotShift: 2 }, { t: "/" }, { t: "L", italic: true }, { t: "BZ", sub: true }], 26);

// top legend
const legTop = svg.append("g");
legTop.append("rect").attr("x", 400).attr("y", 205).attr("width", 910).attr("height", 47).attr("rx", 4)
  .attr("fill", "#ffffff").attr("fill-opacity", 0.8)
  .attr("stroke", "#cccccc").attr("stroke-opacity", 0.8).attr("stroke-width", 1.5);
const topLegendItems = [
  { color: topColors.inj, x: 407, sub: "inj, Poynt" },
  { color: topColors.out, x: 596, sub: "out, Poynt" },
  { color: topColors.je, x: 789, sub: "J.\u2009E" },
  { color: topColors.em, x: 950, sub: "EMfields" },
  { color: topColors.res, x: 1142, plain: "Residual" }
];
topLegendItems.forEach(it => {
  legTop.append("line").attr("x1", it.x).attr("x2", it.x + 46)
    .attr("y1", 227.5).attr("y2", 227.5)
    .attr("stroke", it.color).attr("stroke-width", 2);
  const t = legTop.append("text").attr("x", it.x + 62).attr("y", 235.5);
  if (it.plain) {
    t.attr("font-size", 22).text(it.plain);
  } else {
    rich(t, [{ t: "\u2130", dot: true, dotShift: 2 }, { t: it.sub, sub: true, subShift: 0.2 }], 22);
  }
});

// ---------------- bottom panel ----------------
const gBot = svg.append("g");
drawGrid(gBot, yBot, yTicksBottom, BOT);
const botColors = { inf: "#2ca02c", disk: "#e2a25e", total: "#000000" };
drawSeries(gBot, bhInf, yBot, botColors.inf, "clipBot");
drawSeries(gBot, bhDisk, yBot, botColors.disk, "clipBot");
drawSeries(gBot, fluxTotal, yBot, botColors.total, "clipBot");
drawFrame(gBot, BOT);
const axBotY = gBot.append("g").attr("transform", `translate(${X0},0)`)
  .call(d3.axisLeft(yBot).tickValues(yTicksBottom).tickSize(8).tickPadding(10).tickFormat(fmtTick));
styleAxis(axBotY);
const axBotX = gBot.append("g").attr("transform", `translate(0,${BOT.y1})`)
  .call(d3.axisBottom(x).tickValues(xTicks).tickSize(8).tickPadding(14).tickFormat(d3.format("d")));
styleAxis(axBotX);

// bottom y label
const ylBot = svg.append("text")
  .attr("transform", "translate(42,326) rotate(-90)")
  .attr("text-anchor", "middle");
rich(ylBot, [
  { t: "\u03A6/2" }, { t: "\u03C0B", italic: true }, { t: "0", sub: true },
  { t: "r", italic: true }, { t: "2", sup: true }, { t: "g", sub: true, italic: true, dx: -11 }
], 25);

// x label
const xl = svg.append("text").attr("x", 718).attr("y", 463).attr("text-anchor", "middle");
rich(xl, [{ t: "ct/r", italic: true }, { t: "g", sub: true, italic: true }], 25);

// bottom legend
const legBot = svg.append("g");
legBot.append("rect").attr("x", 794).attr("y", 337).attr("width", 516).attr("height", 41).attr("rx", 4)
  .attr("fill", "#ffffff").attr("fill-opacity", 0.8)
  .attr("stroke", "#cccccc").attr("stroke-opacity", 0.8).attr("stroke-width", 1.5);
const botLegendItems = [
  { color: botColors.inf, x: 802, label: "BH-Inf" },
  { color: botColors.disk, x: 983, label: "BH-Disk" },
  { color: botColors.total, x: 1183, label: "Total" }
];
botLegendItems.forEach(it => {
  legBot.append("line").attr("x1", it.x).attr("x2", it.x + 46)
    .attr("y1", 357).attr("y2", 357)
    .attr("stroke", it.color).attr("stroke-width", 2);
  legBot.append("text").attr("x", it.x + 63).attr("y", 365)
    .attr("font-size", 22).text(it.label);
});
</script>
</body>
</html>
